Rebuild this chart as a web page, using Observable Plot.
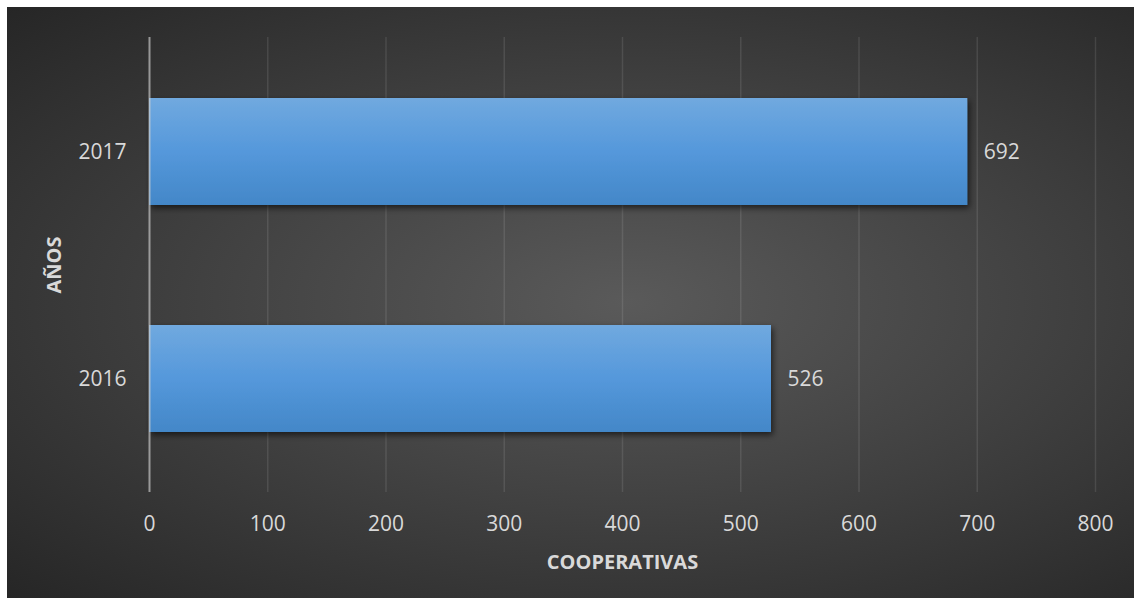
<!DOCTYPE html>
<html>
<head>
<meta charset="utf-8">
<script src="https://cdn.jsdelivr.net/npm/d3@7"></script>
<script src="https://cdn.jsdelivr.net/npm/@observablehq/plot@0.6"></script>
<style>
  html, body { margin: 0; padding: 0; background: #ffffff; }
  #wrap { position: relative; width: 1134px; height: 598px; background: #ffffff; overflow: hidden; }
  #bg { position: absolute; left: 7px; top: 7px; width: 1127px; height: 591px;
        background: radial-gradient(ellipse farthest-corner at 55% 50%, #5a5a5a 0%, #434343 45%, #262626 100%); }
  #chart { position: absolute; left: 0; top: 0; }
</style>
</head>
<body>
<div id="wrap"><div id="bg"></div><div id="chart"></div></div>
<script>
const years = ["2017", "2016"];
const cooperativas = [692, 526];
const xTicks = [0, 100, 200, 300, 400, 500, 600, 700, 800];
const xTitle = "COOPERATIVAS";
const yTitle = "AÑOS";

const data = years.map((y, i) => ({year: y, value: cooperativas[i]}));

const svg = Plot.plot({
  width: 1134,
  height: 598,
  marginLeft: 149,
  marginRight: 39,
  marginTop: 37,
  marginBottom: 106,
  style: {
    background: "transparent",
    color: "#d9d9d9",
    fontFamily: "'Open Sans', sans-serif",
    fontSize: "21px"
  },
  x: {domain: [0, 800], ticks: xTicks, tickSize: 0, tickPadding: 24, tickFormat: d => String(d), label: null},
  y: {domain: years, paddingInner: 0.53, paddingOuter: 0.265, tickSize: 0, tickPadding: 23, label: null},
  marks: [
    Plot.ruleX(xTicks.slice(1), {stroke: "#ffffff", strokeOpacity: 0.1, strokeWidth: 1.5}),
    Plot.barX(data, {x: "value", y: "year", fill: "url(#barGrad)"}),
    Plot.ruleX([0], {stroke: "#d0d0d0", strokeOpacity: 0.65, strokeWidth: 2}),
    Plot.text(data, {x: "value", y: "year", text: d => String(d.value), dx: 16, textAnchor: "start", fill: "#d9d9d9", fontSize: 21}),
    Plot.text([xTitle], {frameAnchor: "bottom", text: d => d, dy: 70, textAnchor: "middle", lineAnchor: "middle", fill: "#d9d9d9", fontWeight: "bold", fontSize: 20}),
    Plot.text([yTitle], {frameAnchor: "left", text: d => d, dx: -95, rotate: -90, textAnchor: "middle", lineAnchor: "middle", fill: "#d9d9d9", fontWeight: "bold", fontSize: 20})
  ]
});

const s = d3.select(svg);
const defs = s.insert("defs", ":first-child");
const g = defs.append("linearGradient").attr("id", "barGrad").attr("x1", 0).attr("y1", 0).attr("x2", 0).attr("y2", 1);
g.append("stop").attr("offset", "0%").attr("stop-color", "#70a9df");
g.append("stop").attr("offset", "50%").attr("stop-color", "#5598db");
g.append("stop").attr("offset", "100%").attr("stop-color", "#4387c8");
const f = defs.append("filter").attr("id", "shadow").attr("x", "-5%").attr("y", "-10%").attr("width", "115%").attr("height", "130%");
f.append("feDropShadow").attr("dx", 2).attr("dy", 3).attr("stdDeviation", 3).attr("flood-color", "#000").attr("flood-opacity", 0.6);
s.selectAll("g[aria-label='bar']").attr("filter", "url(#shadow)");

document.getElementById("chart").appendChild(svg);
</script>
</body>
</html>
